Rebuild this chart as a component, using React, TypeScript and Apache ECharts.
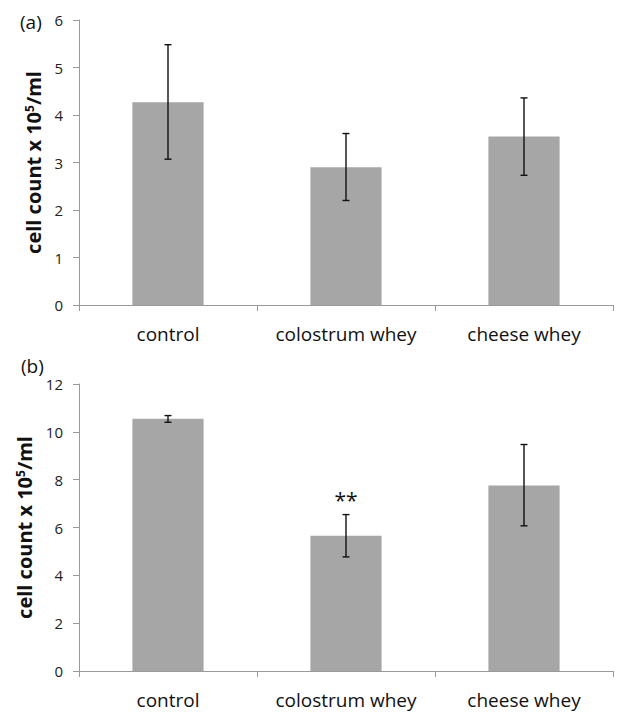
import React, { useEffect, useRef } from "react";
import * as echarts from "echarts";

const categories = ["control", "colostrum whey", "cheese whey"];
const meansA = [4.27, 2.9, 3.55];
const lowA = [3.07, 2.2, 2.73];
const highA = [5.48, 3.61, 4.36];
const meansB = [10.55, 5.65, 7.76];
const lowB = [10.4, 4.77, 6.07];
const highB = [10.68, 6.54, 9.47];
const sigB = ["", "**", ""];
const sigA = ["", "", ""];
const ticksA = [0, 1, 2, 3, 4, 5, 6];
const ticksB = [0, 2, 4, 6, 8, 10, 12];

const FONT = "Open Sans";
const AXIS_COLOR = "#9a9a9a";
const BAR_COLOR = "#a6a6a6";

function errRender(sig: string[]) {
  return (params: any, api: any) => {
    const i = api.value(0);
    const lo = api.coord([i, api.value(1)]);
    const hi = api.coord([i, api.value(2)]);
    const x = lo[0];
    const cap = 3.5;
    const style = { stroke: "#111", lineWidth: 1.4 };
    const children: any[] = [
      { type: "line", shape: { x1: x, y1: lo[1], x2: x, y2: hi[1] }, style },
      { type: "line", shape: { x1: x - cap, y1: lo[1], x2: x + cap, y2: lo[1] }, style },
      { type: "line", shape: { x1: x - cap, y1: hi[1], x2: x + cap, y2: hi[1] }, style },
    ];
    if (sig[i]) {
      children.push({
        type: "text",
        x: x,
        y: hi[1] - 4,
        style: {
          text: sig[i],
          fontFamily: FONT,
          fontSize: 21,
          fill: "#111",
          align: "center",
          verticalAlign: "bottom",
        },
      });
    }
    return { type: "group", children };
  };
}

function yAxisCfg(idx: number, max: number, interval: number) {
  return {
    type: "value",
    gridIndex: idx,
    min: 0,
    max,
    interval,
    name: "{a|cell count x 10}{s|5}{a|/ml}",
    nameLocation: "middle",
    nameRotate: 90,
    nameGap: 35,
    nameTextStyle: {
      rich: {
        a: { fontFamily: FONT, fontWeight: "bold", fontSize: 20, color: "#111" },
        s: { fontFamily: FONT, fontWeight: "bold", fontSize: 12, color: "#111", verticalAlign: "top", padding: [0, 0, 9, 0] },
      },
    },
    axisLine: { show: true, lineStyle: { color: AXIS_COLOR, width: 1 } },
    axisTick: { show: true, length: 6, lineStyle: { color: AXIS_COLOR } },
    splitLine: { show: false },
    axisLabel: { fontFamily: FONT, fontSize: 15, color: "#222", margin: 16 },
  };
}

function xAxisCfg(idx: number) {
  return {
    type: "category",
    gridIndex: idx,
    data: categories,
    axisLine: { show: true, lineStyle: { color: AXIS_COLOR, width: 1 } },
    axisTick: { show: true, length: 6, alignWithLabel: false, lineStyle: { color: AXIS_COLOR } },
    axisLabel: { fontFamily: FONT, fontSize: 19, color: "#111", margin: 19, interval: 0 },
  };
}

export default function App() {
  const ref = useRef<HTMLDivElement>(null);
  useEffect(() => {
    document.body.style.margin = "0";
    const chart = echarts.init(ref.current!, null, { renderer: "svg" });
    chart.setOption({
      animation: false,
      backgroundColor: "#fff",
      grid: [
        { left: 79, top: 20, width: 534, height: 285 },
        { left: 79, top: 384, width: 534, height: 287 },
      ],
      xAxis: [xAxisCfg(0), xAxisCfg(1)],
      yAxis: [
        yAxisCfg(0, ticksA[ticksA.length - 1], ticksA[1] - ticksA[0]),
        yAxisCfg(1, ticksB[ticksB.length - 1], ticksB[1] - ticksB[0]),
      ],
      graphic: [
        { type: "text", left: 20, top: 12, style: { text: "(a)", fontFamily: FONT, fontSize: 19, fill: "#111" } },
        { type: "text", left: 21, top: 356, style: { text: "(b)", fontFamily: FONT, fontSize: 19, fill: "#111" } },
      ],
      series: [
        {
          type: "bar",
          xAxisIndex: 0,
          yAxisIndex: 0,
          data: meansA,
          barWidth: "40%",
          itemStyle: { color: BAR_COLOR },
        },
        {
          type: "custom",
          xAxisIndex: 0,
          yAxisIndex: 0,
          data: categories.map((_, i) => [i, lowA[i], highA[i]]),
          renderItem: errRender(sigA),
          z: 5,
        },
        {
          type: "bar",
          xAxisIndex: 1,
          yAxisIndex: 1,
          data: meansB,
          barWidth: "40%",
          itemStyle: { color: BAR_COLOR },
        },
        {
          type: "custom",
          xAxisIndex: 1,
          yAxisIndex: 1,
          data: categories.map((_, i) => [i, lowB[i], highB[i]]),
          renderItem: errRender(sigB),
          z: 5,
        },
      ],
    });
    return () => chart.dispose();
  }, []);
  return <div ref={ref} style={{ width: 625, height: 712 }} />;
}
